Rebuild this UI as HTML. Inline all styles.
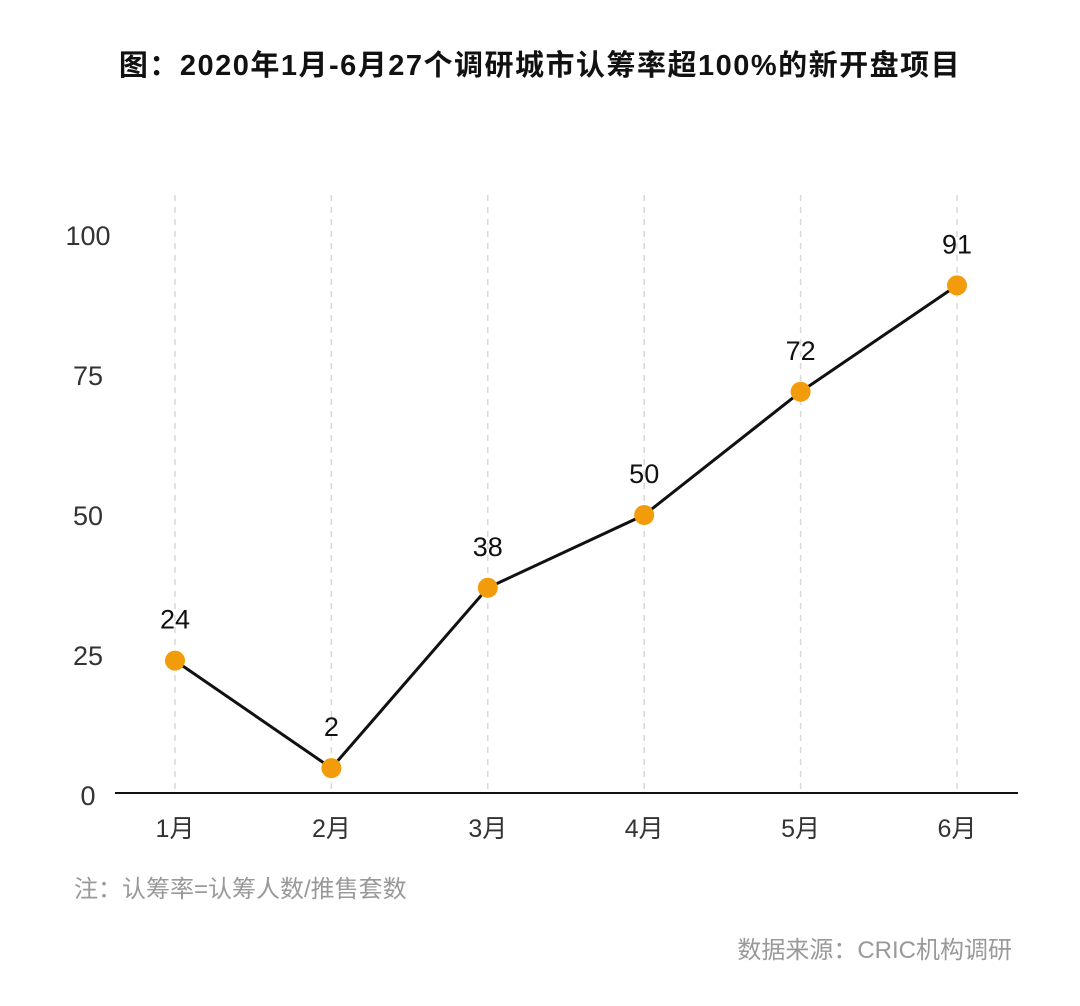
<!DOCTYPE html>
<html><head><meta charset="utf-8">
<style>
html,body{margin:0;padding:0;background:#fff;}
svg{display:block;font-family:"Liberation Sans","Noto Sans CJK SC",sans-serif;}
</style></head>
<body>
<svg id="chart" width="1080" height="1006" viewBox="0 0 1080 1006">
  <text x="540" y="75" text-anchor="middle" font-size="29" font-weight="bold" letter-spacing="1.5" fill="#111">图：2020年1月-6月27个调研城市认筹率超100%的新开盘项目</text>
  <g id="grid"></g>
  <g id="yaxis"></g>
  <g id="xaxis"></g>
  <g id="series"></g>
  <text x="74" y="897" font-size="24" fill="#999">注：认筹率=认筹人数/推售套数</text>
  <text x="1012" y="958" text-anchor="end" font-size="24" fill="#999">数据来源：CRIC机构调研</text>
</svg>
<script>
const categories = ["1月","2月","3月","4月","5月","6月"];
const values = [24, 4.8, 37, 50, 72, 91];
const valueLabels = ["24","2","38","50","72","91"];
const yTicks = [0, 25, 50, 75, 100];

const NS = "http://www.w3.org/2000/svg";
const x0 = 175, xStep = 156.4;
const yZero = 795, yPerUnit = 5.6;
function xScale(i){ return x0 + i * xStep; }
function yScale(v){ return yZero - v * yPerUnit; }
function mk(tag, attrs, parent){
  const e = document.createElementNS(NS, tag);
  for (const k in attrs) e.setAttribute(k, attrs[k]);
  parent.appendChild(e);
  return e;
}
const grid = document.getElementById("grid");
const yaxis = document.getElementById("yaxis");
const xaxis = document.getElementById("xaxis");
const series = document.getElementById("series");

categories.forEach((c, i) => {
  const g = mk("line", {x1: xScale(i), x2: xScale(i), y1: 195, y2: yZero, stroke: "#d8d8d8", "stroke-width": 1.5, "stroke-dasharray": "6,6"}, grid);
  
  
  const t = mk("text", {x: xScale(i), y: 837, "text-anchor": "middle", "font-size": 25, fill: "#333"}, xaxis);
  t.textContent = c;
  
  
});
const ax = mk("line", {x1: 115, x2: 1018, y1: 793, y2: 793, stroke: "#111", "stroke-width": 2}, xaxis);



yTicks.forEach(v => {
  const t = mk("text", {x: 88, y: yScale(v) + 10, "text-anchor": "middle", "font-size": 27, fill: "#333"}, yaxis);
  t.textContent = v;
  
  
});

const pts = values.map((v, i) => xScale(i) + "," + yScale(v)).join(" ");
const line = mk("polyline", {points: pts, fill: "none", stroke: "#111", "stroke-width": 3, "stroke-linejoin": "round"}, series);



values.forEach((v, i) => {
  const p = mk("circle", {cx: xScale(i), cy: yScale(v), r: 10, fill: "#f29c0c"}, series);
  
  
  const t = mk("text", {x: xScale(i), y: yScale(v) - 32, "text-anchor": "middle", "font-size": 27, fill: "#111"}, series);
  t.textContent = valueLabels[i];
  
  
});
</script>
</body></html>
